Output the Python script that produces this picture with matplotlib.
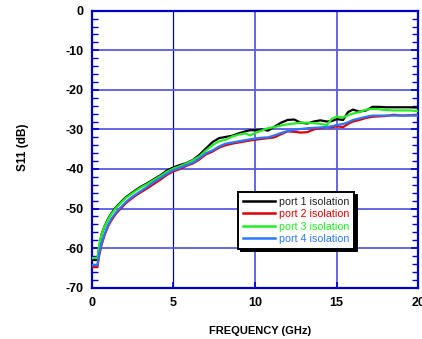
import matplotlib
matplotlib.use("Agg")
import matplotlib.pyplot as plt
from matplotlib.ticker import MultipleLocator

plt.rcParams['font.family'] = ['Liberation Sans', 'DejaVu Sans']
plt.rcParams['axes.unicode_minus'] = False

freq = [0, 0.35, 0.45, 0.6, 0.8, 1.0, 1.2, 1.5, 1.8, 2.1, 2.4, 2.7, 3.0, 3.4, 3.8,
        4.2, 4.6, 5.0, 5.4, 5.8, 6.2, 6.6, 7.0, 7.4, 7.8, 8.2, 8.6, 9.0, 9.4, 9.7,
        10.0, 10.4, 10.8, 11.2, 11.6, 12.0, 12.4, 12.8, 13.2, 13.6, 14.0, 14.4, 14.7,
        15.0, 15.4, 15.7, 16.0, 16.4, 16.8, 17.2, 17.6, 18.0, 18.5, 19.0, 19.5, 20.0]

port1 = [-63, -63, -60, -56.5, -54.4, -52.6, -51.2, -49.6, -48.3, -47.1, -46.2, -45.3,
         -44.5, -43.6, -42.6, -41.6, -40.4, -39.6, -39.0, -38.5, -37.7, -36.4, -34.8,
         -33.2, -32.2, -31.9, -31.6, -31.0, -30.5, -30.2, -30.2, -30.0, -30.3, -29.3,
         -28.3, -27.6, -27.5, -28.3, -28.5, -28.0, -27.7, -28.0, -27.9, -27.4, -27.6,
         -25.6, -25.0, -25.5, -25.2, -24.3, -24.3, -24.4, -24.4, -24.4, -24.4, -24.5]

port2 = [-64.8, -64.8, -62, -59.2, -56.6, -54.5, -53.0, -51.2, -49.9, -48.6, -47.6,
         -46.7, -45.9, -44.9, -43.8, -42.7, -41.5, -40.6, -40.0, -39.2, -38.6, -37.6,
         -36.3, -35.6, -34.6, -34.0, -33.6, -33.3, -33.0, -32.8, -32.6, -32.4, -32.2,
         -32.0, -31.2, -30.5, -30.6, -30.8, -30.7, -30.0, -29.7, -29.4, -29.5, -29.2,
         -29.4, -28.6, -28.0, -27.6, -27.1, -26.8, -26.7, -26.6, -26.3, -26.5, -26.4, -26.4]

port3 = [-62.5, -62.5, -59.5, -56.5, -54.5, -52.8, -51.4, -49.8, -48.5, -47.3, -46.4,
         -45.5, -44.7, -43.8, -42.8, -41.8, -40.7, -39.9, -39.3, -38.6, -37.8, -36.8,
         -35.3, -34.0, -33.0, -32.6, -31.8, -31.3, -31.0, -31.5, -30.9, -30.3, -29.7,
         -29.4, -29.0, -28.7, -28.5, -28.3, -28.3, -28.4, -28.6, -28.9, -27.3, -26.8,
         -27.0, -26.4, -26.0, -25.6, -25.0, -24.8, -24.9, -25.1, -25.2, -25.2, -25.2, -25.4]

port4 = [-64.3, -64.3, -61.5, -58.8, -56.3, -54.2, -52.6, -50.9, -49.6, -48.3, -47.3,
         -46.4, -45.6, -44.5, -43.3, -42.3, -41.2, -40.3, -39.7, -39.0, -38.4, -37.3,
         -36.0, -35.3, -34.3, -33.6, -33.3, -33.0, -32.7, -32.5, -32.3, -32.1, -32.0,
         -31.5, -30.9, -30.4, -30.1, -29.9, -29.7, -29.6, -29.5, -29.4, -29.2, -28.9,
         -28.6, -28.2, -27.6, -27.2, -26.8, -26.5, -26.5, -26.5, -26.5, -26.5, -26.5, -26.5]

labels = ['port 1 isolation', 'port 2 isolation', 'port 3 isolation', 'port 4 isolation']
colors = ['#000000', '#e00000', '#22ee22', '#2a78ff']
x_ticks = [0, 5, 10, 15, 20]
y_ticks = [0, -10, -20, -30, -40, -50, -60, -70]

fig = plt.figure(figsize=(4.22, 3.39), dpi=100)
ax = fig.add_axes([0.2173, 0.1513, 0.7739, 0.8171])

for ys, lab, c in zip([port1, port2, port3, port4], labels, colors):
    ax.plot(freq, ys, color=c, lw=1.6, label=lab, zorder=3)

ax.set_xlim(0, 20)
ax.set_ylim(-70, 0)
ax.set_xticks(x_ticks)
ax.set_yticks(y_ticks)
ax.yaxis.set_minor_locator(MultipleLocator(2))

blue = '#0000cc'
ax.grid(True, which='major', color='#5a5ae2', lw=1.3, zorder=1)
for gl, v in zip(ax.get_xgridlines(), x_ticks):
    if v == 5:
        gl.set_color('#0000b0')
        gl.set_linewidth(0.9)

for s in ax.spines.values():
    s.set_color(blue)
    s.set_linewidth(1.6)

ax.tick_params(axis='both', which='both', direction='in', color=blue, labelsize=9)
ax.tick_params(axis='y', which='both', left=True, right=True, pad=6)
ax.tick_params(axis='y', which='major', length=5, width=1.2)
ax.tick_params(axis='y', which='minor', length=4, width=1.0)
ax.tick_params(axis='x', which='major', length=4, width=1.2, pad=7)
for t in ax.get_xticklabels() + ax.get_yticklabels():
    t.set_fontweight('bold')

ax.set_xlabel('FREQUENCY (GHz)', fontsize=8, fontweight='bold', va='center')
ax.set_ylabel('S11 (dB)', fontsize=8.5, fontweight='bold', va='center')
ax.xaxis.set_label_coords(0.515, -0.155)
ax.yaxis.set_label_coords(-0.21, 0.506)

leg = ax.legend(loc='upper left', bbox_to_anchor=(0.448, 0.3455), borderaxespad=0,
                fontsize=7.7, labelcolor='linecolor', fancybox=False,
                edgecolor='black', framealpha=1, handlelength=3.0,
                handletextpad=0.4, labelspacing=0.22, borderpad=0.45,
                shadow={'facecolor': 'black', 'edgecolor': 'black', 'alpha': 1})
leg.get_frame().set_linewidth(1.4)
leg.set_zorder(5)
for t, c in zip(leg.get_texts(), ['#222222', '#e00000', '#22ee22', '#2a78ff']):
    t.set_color(c)
for h in leg.legend_handles:
    h.set_linewidth(1.8)

fig.savefig('out.png', dpi=100)
